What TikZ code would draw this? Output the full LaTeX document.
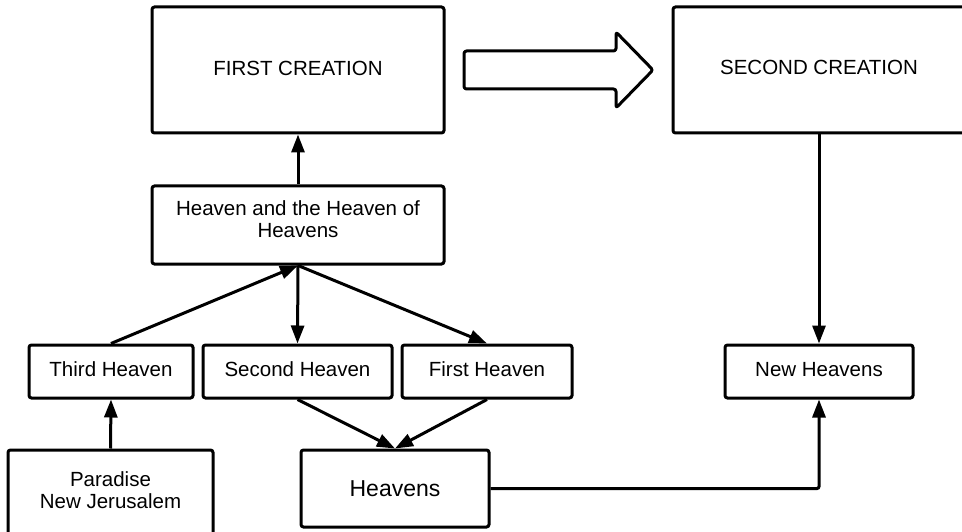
\documentclass[tikz,border=0pt]{standalone}
\usepackage{fontspec}
\setmainfont{Liberation Sans}
\usetikzlibrary{arrows.meta}
\begin{document}
\begin{tikzpicture}[x=1pt,y=-1pt,
  box/.style={draw, line width=3pt, rounded corners=2.5pt, inner sep=0pt,
    align=center, font=\fontsize{20.5}{22.5}\selectfont},
  boxtext/.style={inner sep=0pt, align=center, font=\fontsize{20.5}{22.5}\selectfont},
  conn/.style={line width=3pt, -{Triangle[length=18pt,width=13pt]}},
  hollow/.style={draw, line width=3pt, rounded corners=2.5pt, line join=round}]
\useasboundingbox (0,0) rectangle (962,532);

% creations
\node[box, minimum width=292pt, minimum height=126pt] (fc) at (298,70) {};
\node[boxtext] (fctext) at (298,68) {FIRST CREATION};
\node[box, minimum width=292pt, minimum height=126pt] (sc) at (819,70) {};
\node[boxtext] (sctext) at (819,67) {SECOND CREATION};

% block arrow between the creations
\draw[hollow] (464,51) -- (616,51) -- (616,32) -- (653,70) -- (616,108)
  -- (616,89) -- (464,89) -- cycle;

% heavens of the first creation
\node[box, minimum width=292pt, minimum height=78pt] (hh) at (298,225) {};
\node[boxtext] (hhtext) at (298,219) {Heaven and the Heaven of\\Heavens};

\node[box, minimum width=164pt, minimum height=53pt] (th) at (111,371.5) {};
\node[boxtext] (thtext) at (111,369.5) {Third Heaven};
\node[box, minimum width=189pt, minimum height=53pt] (sh) at (297.5,371.5) {};
\node[boxtext] (shtext) at (297.5,369.5) {Second Heaven};
\node[box, minimum width=170pt, minimum height=53pt] (fh) at (487,371.5) {};
\node[boxtext] (fhtext) at (487,369.5) {First Heaven};
\node[box, minimum width=188pt, minimum height=53pt] (nh) at (819,371.5) {};
\node[boxtext] (nhtext) at (819,369.5) {New Heavens};

\node[box, minimum width=205pt, minimum height=90pt] (pj) at (110.5,495) {};
\node[boxtext] (pjtext) at (110.5,490) {Paradise\\New Jerusalem};
\node[box, minimum width=188pt, minimum height=77pt,
  font=\fontsize{23}{25}\selectfont] (hv) at (395,488.5) {Heavens};

% connectors
\draw[conn] (hh.north) -- (fc.south);
\draw[conn] (th.north) -- (hh.south);
\draw[conn] (hh.south) -- (sh.north);
\draw[conn] (hh.south) -- (fh.north);
\draw[conn] (sh.south) -- (hv.north);
\draw[conn] (fh.south) -- (hv.north);
\draw[conn] (pj.north) -- (th.south);
\draw[conn, rounded corners=2pt] (hv.east) -| (nh.south);
\draw[conn] (sc.south) -- (nh.north);
\end{tikzpicture}
\end{document}
